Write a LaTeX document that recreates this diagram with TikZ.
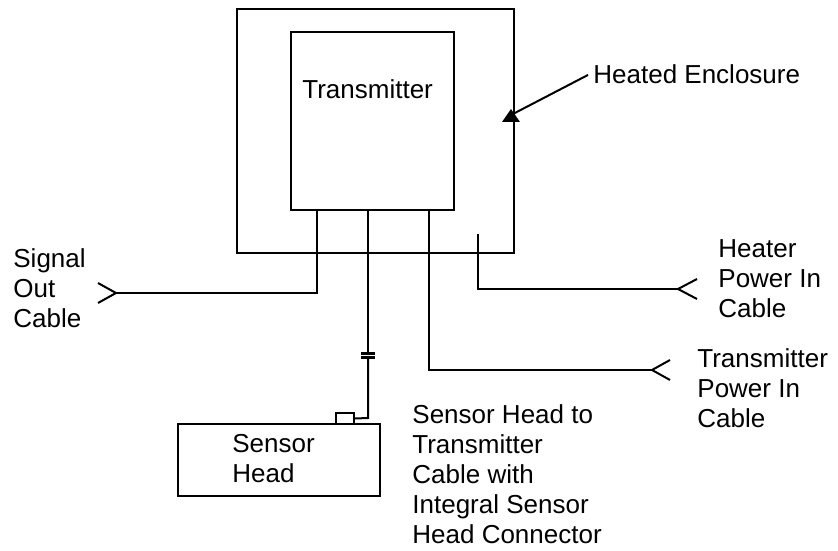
\documentclass[tikz,border=0pt]{standalone}
\usepackage{fontspec}
\setmainfont{Liberation Sans}
\usepackage{tikz}
\usetikzlibrary{arrows.meta}

\begin{document}
\begin{tikzpicture}[x=0.5pt, y=-0.5pt]
        % styles
        \tikzset{boxA/.style={draw, line width=1pt, inner sep=0pt}}
        \tikzset{cable/.style={line width=1pt}}
        \tikzset{breakmark/.style={line width=1.5pt}}
        \tikzset{lbl/.style={anchor=north west, inner sep=0pt, align=left, font=\fontsize{13}{15}\selectfont}}

        \useasboundingbox (0,0) rectangle (838,550);

        % 1. boxes
        \node[boxA, minimum width=138.5pt, minimum height=122pt] (enc) at (375.5,131) {};
        \node[boxA, minimum width=81.5pt, minimum height=89pt] (tx) at (372.5,121) {};
        \node[boxA, minimum width=101pt, minimum height=36pt] (head) at (279,460) {};
        \node[boxA, fill=white, minimum width=9pt, minimum height=5.5pt] (conn) at (345,418.5) {};

        % 2. labels
        \node[lbl] (txlbl) at (302,79) {Transmitter};
        \node[lbl] (enclbl) at (593,64) {Heated Enclosure};
        \node[lbl] (siglbl) at (13,248) {Signal\\Out\\Cable};
        \node[lbl] (hplbl) at (718,239) {Heater\\Power In\\Cable};
        \node[lbl] (tplbl) at (697,348) {Transmitter\\Power In\\Cable};
        \node[lbl] (headlbl) at (232,434) {Sensor\\Head};
        \node[lbl] (sclbl) at (412,404) {Sensor Head to\\Transmitter\\Cable with\\Integral Sensor\\Head Connector};

        % 3. bend points and cable ends
        \coordinate (sigbend) at (317,293);
        \coordinate (sigend) at (116,293);
        \coordinate (brktop) at (368,353);
        \coordinate (brkbot) at (368,357);
        \coordinate (sbend) at (368,418);
        \coordinate (tpbend) at (429,370);
        \coordinate (tpend) at (652,370);
        \coordinate (hptop) at (478,234);
        \coordinate (hpbend) at (478,289);
        \coordinate (hpend) at (678,289);
        \coordinate (encwall) at (511,115);

        % 4. cables
        \draw[cable] (sigbend |- tx.south) -- (sigbend) -- (sigend);
        \draw[cable] (sigend) ++(-18,-10) -- (sigend) -- ++(-18,10);

        \draw[cable] (brktop |- tx.south) -- (brktop);
        \draw[cable] (brkbot) -- (sbend) -- (conn.east);
        \draw[breakmark] (brktop) ++(-7,0) -- ++(14,0);
        \draw[breakmark] (brkbot) ++(-7,0) -- ++(14,0);

        \draw[cable] (tpbend |- tx.south) -- (tpbend) -- (tpend);
        \draw[cable] (tpend) ++(18,-10) -- (tpend) -- ++(18,10);

        \draw[cable] (hptop) -- (hpbend) -- (hpend);
        \draw[cable] (hpend) ++(19,-10) -- (hpend) -- ++(19,10);

        % 5. pointer to the enclosure
        \draw[cable] (enclbl.west) ++(-5,1) -- (encwall);
        \fill (encwall) ++(0,-6) -- ++(9,13) -- ++(-18,0) -- cycle;
    \end{tikzpicture}
\end{document}
